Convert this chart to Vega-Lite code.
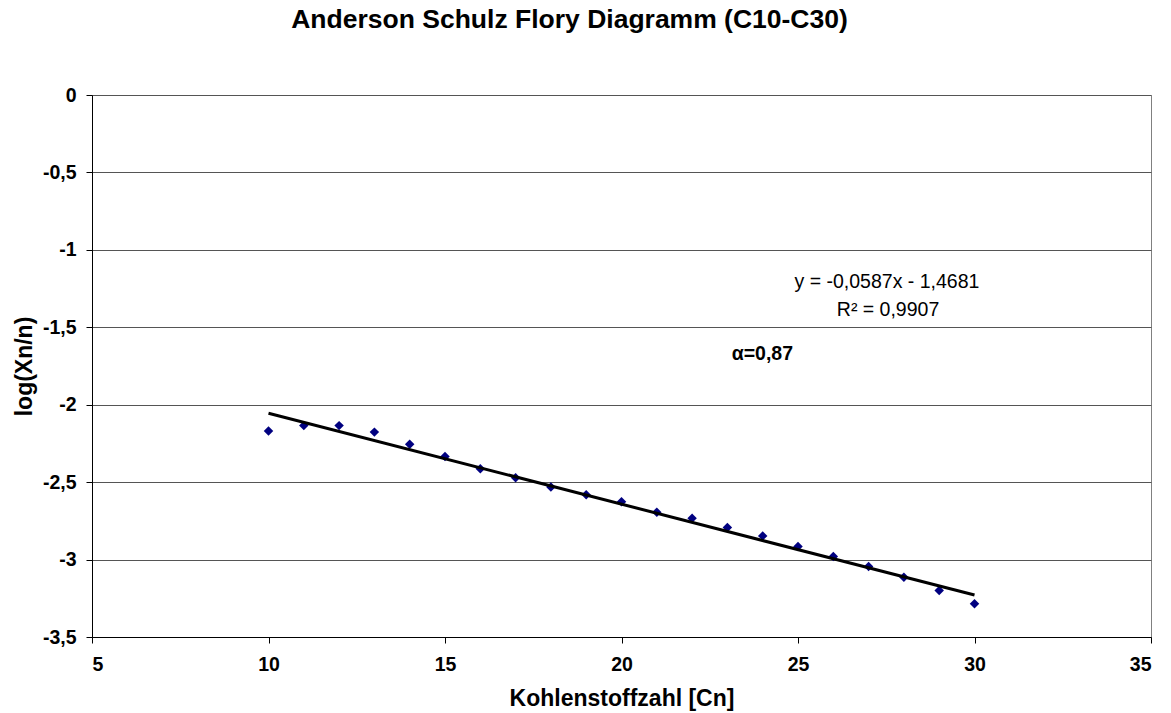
{
  "$schema": "https://vega.github.io/schema/vega-lite/v6.json",
  "width": 1059,
  "height": 542,
  "autosize": {"type": "none"},
  "padding": {"left": 92, "top": 95, "right": 20, "bottom": 76},
  "background": "white",
  "title": {
    "text": "Anderson Schulz Flory Diagramm (C10-C30)",
    "anchor": "middle",
    "dx": -52,
    "offset": 52,
    "font": "Liberation Sans",
    "fontSize": 26.5,
    "fontWeight": "bold",
    "color": "black"
  },
  "config": {
    "view": {"stroke": "#808080", "strokeWidth": 1},
    "axis": {
      "labelFont": "Liberation Sans",
      "labelFontSize": 19.5,
      "labelFontWeight": "bold",
      "labelColor": "black",
      "titleFont": "Liberation Sans",
      "titleFontSize": 23,
      "titleFontWeight": "bold",
      "titleColor": "black",
      "domainColor": "black",
      "tickColor": "black",
      "tickSize": 6
    }
  },
  "datasets": {
    "points": [
      {"cn": 10, "logx": -2.17},
      {"cn": 11, "logx": -2.135},
      {"cn": 12, "logx": -2.135},
      {"cn": 13, "logx": -2.177},
      {"cn": 14, "logx": -2.255},
      {"cn": 15, "logx": -2.335},
      {"cn": 16, "logx": -2.414},
      {"cn": 17, "logx": -2.472},
      {"cn": 18, "logx": -2.532},
      {"cn": 19, "logx": -2.582},
      {"cn": 20, "logx": -2.626},
      {"cn": 21, "logx": -2.694},
      {"cn": 22, "logx": -2.733},
      {"cn": 23, "logx": -2.793},
      {"cn": 24, "logx": -2.847},
      {"cn": 25, "logx": -2.916},
      {"cn": 26, "logx": -2.98},
      {"cn": 27, "logx": -3.045},
      {"cn": 28, "logx": -3.114},
      {"cn": 29, "logx": -3.2},
      {"cn": 30, "logx": -3.286}
    ],
    "trend": [
      {"cn": 10, "logx": -2.0551},
      {"cn": 30, "logx": -3.2291}
    ],
    "notes": [
      {"nx": 27.52, "ny": -1.246, "label": "y = -0,0587x - 1,4681", "kind": "eq"},
      {"nx": 27.55, "ny": -1.425, "label": "R² = 0,9907", "kind": "eq"},
      {"nx": 23.99, "ny": -1.711, "label": "α=0,87", "kind": "alpha"}
    ]
  },
  "layer": [
    {
      "data": {"name": "points"},
      "mark": {"type": "point", "shape": "diamond", "filled": true, "color": "#000080", "size": 90, "opacity": 1},
      "encoding": {
        "x": {
          "field": "cn", "type": "quantitative",
          "scale": {"domain": [5, 35], "nice": false, "zero": false},
          "axis": {"values": [5, 10, 15, 20, 25, 30, 35], "grid": false, "labelPadding": 12, "titlePadding": 14},
          "title": "Kohlenstoffzahl [Cn]"
        },
        "y": {
          "field": "logx", "type": "quantitative",
          "scale": {"domain": [-3.5, 0], "nice": false, "zero": false},
          "axis": {
            "values": [-3.5, -3, -2.5, -2, -1.5, -1, -0.5, 0],
            "grid": true, "gridColor": "#555555", "gridWidth": 1,
            "labelPadding": 10,
            "labelExpr": "replace(toString(datum.value), '.', ',')",
            "titlePadding": 6
          },
          "title": "log(Xn/n)"
        }
      }
    },
    {
      "data": {"name": "trend"},
      "mark": {"type": "line", "color": "black", "strokeWidth": 3},
      "encoding": {
        "x": {"field": "cn", "type": "quantitative"},
        "y": {"field": "logx", "type": "quantitative"}
      }
    },
    {
      "data": {"name": "notes"},
      "transform": [{"filter": "datum.kind == 'eq'"}],
      "mark": {"type": "text", "font": "Liberation Sans", "fontSize": 19.5, "color": "black", "align": "center", "baseline": "alphabetic"},
      "encoding": {
        "x": {"field": "nx", "type": "quantitative"},
        "y": {"field": "ny", "type": "quantitative"},
        "text": {"field": "label"}
      }
    },
    {
      "data": {"name": "notes"},
      "transform": [{"filter": "datum.kind == 'alpha'"}],
      "mark": {"type": "text", "font": "Liberation Sans", "fontSize": 19.5, "fontWeight": "bold", "color": "black", "align": "center", "baseline": "alphabetic"},
      "encoding": {
        "x": {"field": "nx", "type": "quantitative"},
        "y": {"field": "ny", "type": "quantitative"},
        "text": {"field": "label"}
      }
    }
  ]
}
